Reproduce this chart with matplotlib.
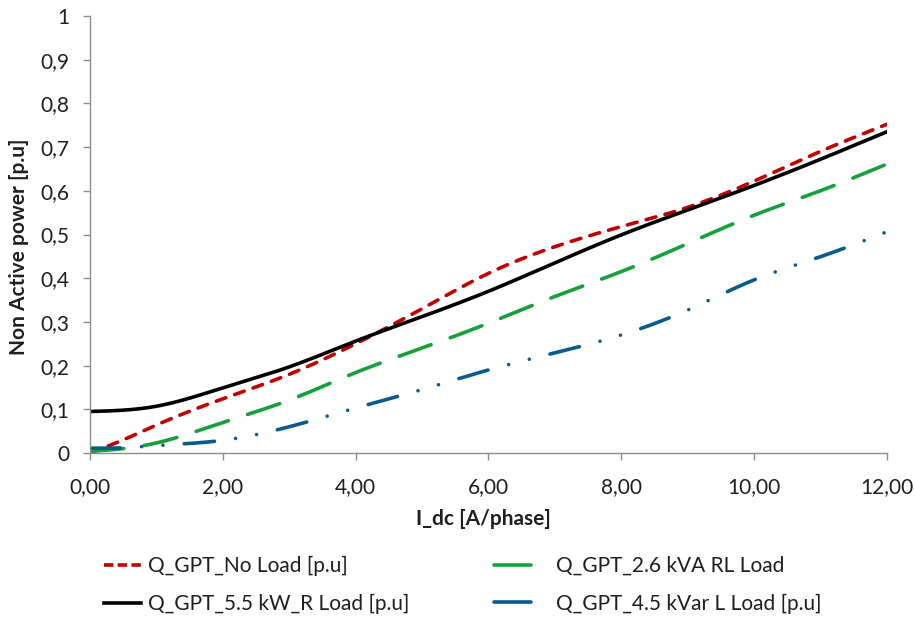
import matplotlib
matplotlib.use("Agg")
import matplotlib.pyplot as plt
from matplotlib.lines import Line2D
from matplotlib.ticker import FixedLocator, FuncFormatter
import numpy as np

plt.rcParams['font.family'] = ['Lato', 'DejaVu Sans']

# Measured non active power versus DC current
i_dc = [0, 0.5, 1, 2, 3, 4, 5, 6, 7, 8, 9, 10, 11, 12]
q_no_load = [0.0, 0.03, 0.064, 0.124, 0.18, 0.25, 0.33, 0.411, 0.472, 0.518, 0.562, 0.622, 0.69, 0.752]
q_r_load = [0.095, 0.098, 0.107, 0.149, 0.197, 0.256, 0.312, 0.37, 0.435, 0.499, 0.556, 0.612, 0.672, 0.735]
q_rl_load = [0.004, 0.01, 0.023, 0.07, 0.121, 0.184, 0.24, 0.297, 0.358, 0.415, 0.479, 0.544, 0.6, 0.661]
q_l_load = [0.011, 0.012, 0.017, 0.029, 0.06, 0.103, 0.145, 0.19, 0.229, 0.27, 0.327, 0.396, 0.449, 0.506]

labels = ["Q_GPT_No Load [p.u]", "Q_GPT_5.5 kW_R Load [p.u]",
          "Q_GPT_2.6 kVA RL Load", "Q_GPT_4.5 kVar L Load [p.u]"]

x_ticks = [0, 2, 4, 6, 8, 10, 12]
y_ticks = [0, 0.1, 0.2, 0.3, 0.4, 0.5, 0.6, 0.7, 0.8, 0.9, 1.0]


def smooth(x, y, n=400):
    """Natural cubic spline through the measured points."""
    x = np.asarray(x, float)
    y = np.asarray(y, float)
    k = len(x)
    h = np.diff(x)
    A = np.zeros((k, k))
    b = np.zeros(k)
    A[0, 0] = A[-1, -1] = 1.0
    for i in range(1, k - 1):
        A[i, i - 1] = h[i - 1]
        A[i, i] = 2 * (h[i - 1] + h[i])
        A[i, i + 1] = h[i]
        b[i] = 6 * ((y[i + 1] - y[i]) / h[i] - (y[i] - y[i - 1]) / h[i - 1])
    M = np.linalg.solve(A, b)
    xs = np.linspace(x[0], x[-1], n)
    j = np.clip(np.searchsorted(x, xs) - 1, 0, k - 2)
    t1 = x[j + 1] - xs
    t0 = xs - x[j]
    hj = h[j]
    ys = (M[j] * t1**3 / (6 * hj) + M[j + 1] * t0**3 / (6 * hj)
          + (y[j] / hj - M[j] * hj / 6) * t1 + (y[j + 1] / hj - M[j + 1] * hj / 6) * t0)
    return xs, ys


fig = plt.figure(figsize=(9.15, 6.17), dpi=100)
ax = fig.add_axes([0.0984, 0.2658, 0.8706, 0.7082])

red = "#C00000"
black = "#000000"
green = "#16A03C"
blue = "#0A5A8C"
lw = 2.6

xs, ys = smooth(i_dc, q_no_load)
l1, = ax.plot(xs, ys, color=red, lw=lw, dashes=(2.8, 2.6), dash_capstyle='round')
xs, ys = smooth(i_dc, q_r_load)
l2, = ax.plot(xs, ys, color=black, lw=lw)
xs, ys = smooth(i_dc, q_rl_load)
l3, = ax.plot(xs, ys, color=green, lw=lw, dashes=(9.4, 5.6), dash_capstyle='round')
xs, ys = smooth(i_dc, q_l_load)
l4, = ax.plot(xs, ys, color=blue, lw=lw, dashes=(8.4, 5.9, 0.01, 5.9, 0.01, 5.9),
              dash_capstyle='round')

ax.set_xlim(0, 12)
ax.set_ylim(0, 1)
ax.xaxis.set_major_locator(FixedLocator(x_ticks))
ax.yaxis.set_major_locator(FixedLocator(y_ticks))
ax.xaxis.set_major_formatter(FuncFormatter(lambda v, p: f"{v:.2f}".replace(".", ",")))
ax.yaxis.set_major_formatter(FuncFormatter(
    lambda v, p: "0" if v == 0 else ("1" if v == 1 else f"{v:.1f}".replace(".", ","))))

for side in ("top", "right"):
    ax.spines[side].set_visible(False)
for side in ("left", "bottom"):
    ax.spines[side].set_color("#8C8C8C")
    ax.spines[side].set_linewidth(1.0)
ax.tick_params(axis="both", direction="out", length=5, width=1.0, color="#8C8C8C",
               labelsize=15, labelcolor="#1F1F1F")
ax.tick_params(axis="x", pad=12)
ax.tick_params(axis="y", pad=10)

ax.set_xlabel("I_dc [A/phase]", fontsize=15, fontweight="bold", color="#1F1F1F")
ax.xaxis.set_label_coords(0.494, -0.128)
ax.set_ylabel("Non Active power [p.u]", fontsize=15, fontweight="bold", color="#1F1F1F")
ax.yaxis.set_label_coords(-0.077, 0.473)

# Legend: dashed/solid samples in the left column, short solid samples in the right
h_red = Line2D([], [], color=red, lw=lw, dashes=(2.6, 1.2))
h_black = Line2D([], [], color=black, lw=lw)
h_green = Line2D([], [], color=green, lw=lw, solid_capstyle='round')
h_blue = Line2D([], [], color=blue, lw=lw, solid_capstyle='round')

leg1 = fig.legend(handles=[h_red, h_black], labels=labels[:2], loc="upper left",
                  bbox_to_anchor=(0.114, 0.099), frameon=False, fontsize=15,
                  handlelength=1.75, handletextpad=0.35, labelspacing=0.85,
                  borderpad=0, borderaxespad=0)
leg2 = fig.legend(handles=[h_green, h_blue], labels=labels[2:], loc="upper left",
                  bbox_to_anchor=(0.540, 0.099), frameon=False, fontsize=15,
                  handlelength=1.75, handletextpad=1.2, labelspacing=0.85,
                  borderpad=0, borderaxespad=0)
for leg in (leg1, leg2):
    for t in leg.get_texts():
        t.set_color("#1F1F1F")

fig.savefig("out.png", dpi=100)
